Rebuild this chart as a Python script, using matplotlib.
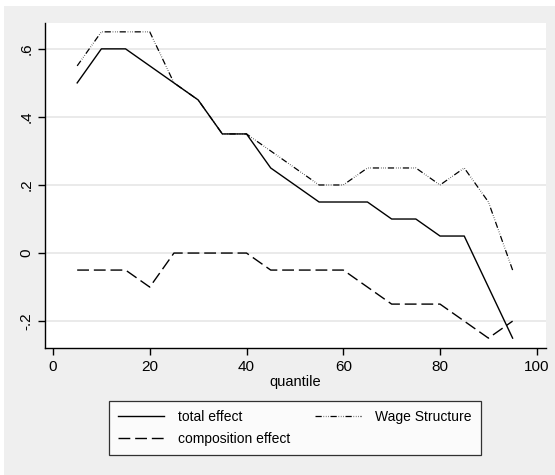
import matplotlib
matplotlib.use("Agg")
import matplotlib.pyplot as plt
from matplotlib.patches import Rectangle

plt.rcParams['font.family'] = ['Liberation Sans', 'DejaVu Sans']

# Quantiles and decomposition estimates
quantile = [5, 10, 15, 20, 25, 30, 35, 40, 45, 50, 55, 60, 65, 70, 75, 80, 85, 90, 95]
total_effect = [0.50, 0.60, 0.60, 0.55, 0.50, 0.45, 0.35, 0.35, 0.25, 0.20,
                0.15, 0.15, 0.15, 0.10, 0.10, 0.05, 0.05, -0.10, -0.25]
wage_structure = [0.55, 0.65, 0.65, 0.65, 0.50, 0.45, 0.35, 0.35, 0.30, 0.25,
                  0.20, 0.20, 0.25, 0.25, 0.25, 0.20, 0.25, 0.15, -0.05]
composition_effect = [-0.05, -0.05, -0.05, -0.10, 0.00, 0.00, 0.00, 0.00, -0.05, -0.05,
                      -0.05, -0.05, -0.10, -0.15, -0.15, -0.15, -0.20, -0.25, -0.20]

x_ticks = [0, 20, 40, 60, 80, 100]
y_ticks = [-0.2, 0, 0.2, 0.4, 0.6]
y_tick_labels = ["-.2", "0", ".2", ".4", ".6"]

W, H = 555, 475
fig = plt.figure(figsize=(W / 100, H / 100), dpi=100, facecolor="white")
# Stata-like graph region
fig.patches.append(Rectangle((4 / W, 0), 1, 1 - 6 / H, transform=fig.transFigure,
                             facecolor="#efefef", edgecolor="none", zorder=-10))

ax = fig.add_axes([45 / W, 1 - 348 / H, (546 - 45) / W, (348 - 23) / H])
ax.set_facecolor("white")

l1, = ax.plot(quantile, total_effect, color="black", lw=1.0, label="total effect")
l3, = ax.plot(quantile, wage_structure, color="black", lw=0.9,
              dashes=(5, 1.5, 0.4, 1.4, 0.4, 1.4, 0.4, 1.5), label="Wage Structure")
l2, = ax.plot(quantile, composition_effect, color="black", lw=1.0,
              dashes=(8.5, 3.5), label="composition effect")

ax.set_xlim(-1.65, 101.9)
ax.set_ylim(-0.279, 0.676)
ax.set_xticks(x_ticks)
ax.set_yticks(y_ticks)
ax.set_yticklabels(y_tick_labels, rotation=90, va="center")
ax.tick_params(labelsize=11, length=5, width=1, colors="black")
ax.grid(axis="y", color="#e6e6e6", lw=1.2)
ax.set_axisbelow(True)
for side in ["top", "right"]:
    ax.spines[side].set_visible(False)
for side in ["left", "bottom"]:
    ax.spines[side].set_linewidth(1.0)
ax.set_xlabel("quantile", fontsize=10.5, labelpad=1)

leg = fig.legend(handles=[l1, l2, l3], ncol=2, loc="center",
                 bbox_to_anchor=(295 / W, 1 - 428 / H), frameon=True, fancybox=False,
                 edgecolor="black", fontsize=10, handlelength=3.3, handletextpad=1.0,
                 columnspacing=1.8, borderpad=0.65, labelspacing=0.6, borderaxespad=0)
leg.get_frame().set_linewidth(0.9)

fig.savefig("out.png", dpi=100, facecolor=fig.get_facecolor())
